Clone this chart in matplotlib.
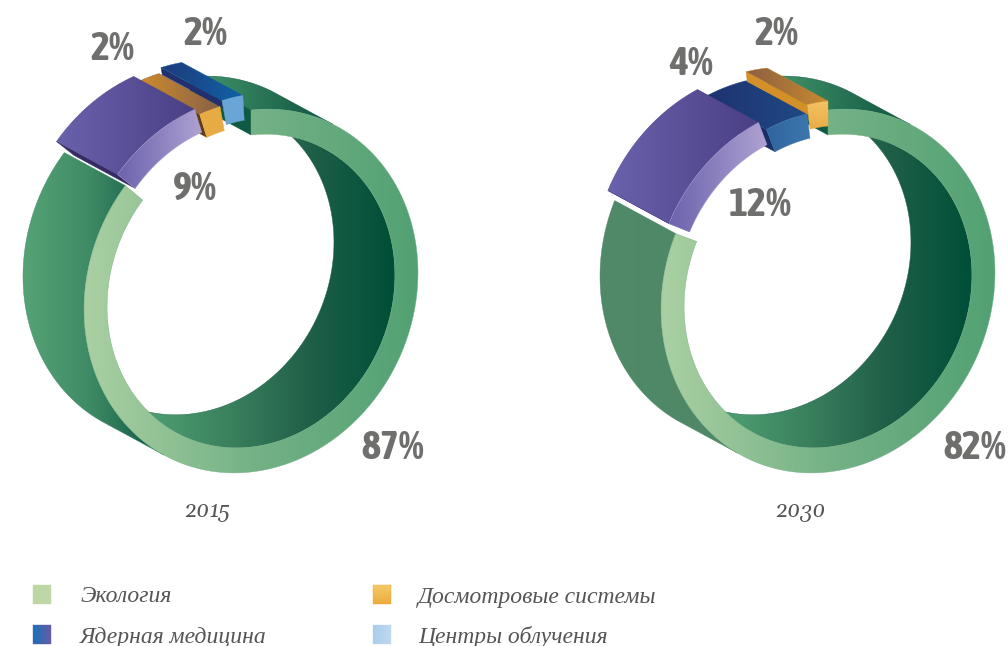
import numpy as np
import matplotlib
matplotlib.use('Agg')
import matplotlib.pyplot as plt
from matplotlib.colors import LinearSegmentedColormap
from matplotlib.patches import Polygon

categories = ['Экология', 'Ядерная медицина', 'Досмотровые системы', 'Центры облучения']
years = ['2015', '2030']
# share of each sector in percent, in the order they go round the ring
shares_2015 = [87, 9, 2, 2]
shares_2030 = [82, 12, 4, 2]

RX, RY, SHEAR, R_IN = 167, 181, -0.11, 0.862
CY = 291
DEPTH = (-61, -33)
GRAY = '#6f6f6e'

fig = plt.figure(figsize=(10.08, 6.46), dpi=100)
ax = fig.add_axes([0, 0, 1, 1])


def grad(verts, cols, x0=None, x1=None, vertical=False, z=1):
    verts = np.asarray(verts)
    poly = Polygon(verts, closed=True, fc='none', ec='none', zorder=z)
    ax.add_patch(poly)
    lo, hi = verts.min(axis=0) - 1, verts.max(axis=0) + 1
    axis = 1 if vertical else 0
    x0 = lo[axis] if x0 is None else x0
    x1 = hi[axis] if x1 is None else x1
    t = np.clip((np.linspace(lo[axis], hi[axis], 400) - x0) / (x1 - x0), 0, 1)
    arr = t.reshape(-1, 1) if vertical else t.reshape(1, -1)
    cmap = LinearSegmentedColormap.from_list('g', cols)
    im = ax.imshow(arr, cmap=cmap, vmin=0, vmax=1, extent=(lo[0], hi[0], hi[1], lo[1]),
                   aspect='auto', interpolation='bilinear', zorder=z)
    im.set_clip_path(poly)
    # thin outline in the mean colour softens the clipped edge
    ax.add_patch(Polygon(verts, closed=True, fc='none', ec=cols[len(cols) // 2], lw=0.3, zorder=z))


def arc(cx, t0, t1, r=1.0, off=(0, 0)):
    t = np.radians(np.linspace(t0, t1, 160))
    x = cx + r * RX * np.sin(t) + off[0]
    y = CY - r * RY * np.cos(t) + SHEAR * r * RX * np.sin(t) + off[1]
    return np.column_stack([x, y])


def back(p):
    return p + np.array(DEPTH)


def faces(pts, outer=True):
    # pieces of a curve whose wall can be seen from the front
    d = np.gradient(pts, axis=0)
    cross = d[:, 0] * DEPTH[1] - d[:, 1] * DEPTH[0]
    vis = cross < 0 if outer else cross > 0
    out, cur = [], []
    for p, v in zip(pts, vis):
        if v:
            cur.append(p)
        elif cur:
            out.append(np.array(cur))
            cur = []
    if cur:
        out.append(np.array(cur))
    return out


def wall(curve):
    return np.vstack([curve, back(curve)[::-1]])


def block(cx, t0, t1, off, top, front, cap, cap_frac=1.0, front_vert=False):
    o = arc(cx, t0, t1, 1.0, off)
    i = arc(cx, t0, t1, R_IN, off)
    a = o[0]
    b = a + (i[0] - a) * cap_frac
    grad([a, b, back(b), back(a)], [cap, cap])
    for piece in faces(o):
        grad(wall(piece), top)
    grad(np.vstack([o, i[::-1]]), front, vertical=front_vert)


def ring(cx, t_end, wall_top, wall_left):
    # outer wall of the green part
    pieces = faces(arc(cx, 0, t_end))
    grad(wall(pieces[0]), wall_top, cx - 46, cx + 79)
    grad(wall(pieces[-1]), wall_left, cx - 226, cx - 95)
    # end cap at twelve o'clock
    o, i = arc(cx, 0, 1)[0], arc(cx, 0, 1, R_IN)[0]
    grad([o, i, back(i), back(o)], ['#0f5a42', '#0f5a42'])
    # inner wall
    for piece in faces(arc(cx, 0, t_end, R_IN), outer=False):
        grad(wall(piece), ['#4f9f72', '#3a815e', '#1f5f48', '#004f38'], cx - 105, cx + 143)
    # front face
    grad(np.vstack([arc(cx, 0, t_end), arc(cx, 0, t_end, R_IN)[::-1]]),
         ['#aad0a2', '#75b286', '#52a173'], cx - 167, cx + 167)


# 2015 ----------------------------------------------------------------
cx, rot = 251, -3.5
edges = rot + np.cumsum(shares_2015) * 3.6
ring(cx, edges[0] + 1.5, ['#3f9068', '#0f5540'], ['#55a374', '#3e8a66', '#0f5a42'])
block(cx, edges[1], edges[2], (0, -10), ['#cf8d2c', '#865f48'], ['#e8ab45', '#e8ab45'], '#5e3d16')
block(cx, edges[2], edges[3], (2, -16), ['#1f3a78', '#0f63a8'], ['#6aa5d6', '#6aa5d6'], '#22306e', 0.3)
block(cx, edges[0], edges[1], (-5, -15), ['#6a62ac', '#4a3f85'], ['#6a62ac', '#b0a3d3'], '#352c62')

# 2030 ----------------------------------------------------------------
cx, rot = 828, 0
edges = rot + np.cumsum(shares_2030) * 3.6
ring(cx, edges[0] - 1, ['#3f9068', '#0f5540'], ['#4f8a69', '#4f8867', '#4f8867'])
block(cx, edges[1], edges[2], (0, 0), ['#1f3270', '#1e4a85'], ['#2f659f', '#3e76ae'], '#1a2f66')
block(cx, edges[2], edges[3], (0, -9), ['#8a5f42', '#c98a30'], ['#f4c566', '#e9ab44'], '#d49028', 0.4, True)
block(cx, edges[0], edges[1], (-8, -7), ['#6a62ac', '#4a3f85'], ['#6a62ac', '#b0a3d3'], '#352c62')

# labels
pct_font = dict(family=['Asap Condensed', 'Roboto'], weight='bold', color=GRAY,
                fontsize=29, ha='center', va='center', zorder=5)
label_pos_2015 = [(393, 448), (195, 189), (112, 49), (205, 34)]
label_pos_2030 = [(975, 448), (760, 205), (691, 64), (776, 34)]
for v, p in zip(shares_2015, label_pos_2015):
    ax.text(p[0], p[1], f'{v}%', **pct_font)
for v, p in zip(shares_2030, label_pos_2030):
    ax.text(p[0], p[1], f'{v}%', **pct_font)

serif = dict(family=['Gelasio', 'Liberation Serif'], style='italic', color='#555555', va='center', zorder=5)
ax.text(207, 511, years[0], ha='center', fontsize=15.5, **serif)
ax.text(800, 511, years[1], ha='center', fontsize=15.5, **serif)

# legend
legend_pos = {'Экология': (33, 595), 'Досмотровые системы': (373, 595),
              'Ядерная медицина': (33, 635), 'Центры облучения': (373, 635)}
swatch = {'Экология': (['#bdd6a3', '#c0d8a8'], False),
          'Досмотровые системы': (['#f5cc6a', '#ecaa3a'], True),
          'Ядерная медицина': (['#1474b8', '#6a5aa8'], False),
          'Центры облучения': (['#a8cdea', '#c0daf0'], False)}
for name in categories:
    x, y = legend_pos[name]
    cols, vert = swatch[name]
    grad([(x, y - 10), (x + 18, y - 10), (x + 18, y + 9), (x, y + 9)], cols, vertical=vert)
    ax.text(x + 47 if x < 100 else x + 45, y + 1, name, ha='left', fontsize=17, **serif)

ax.set_xlim(0, 1008)
ax.set_ylim(646, 0)
ax.axis('off')
fig.savefig('out.png', dpi=100)
